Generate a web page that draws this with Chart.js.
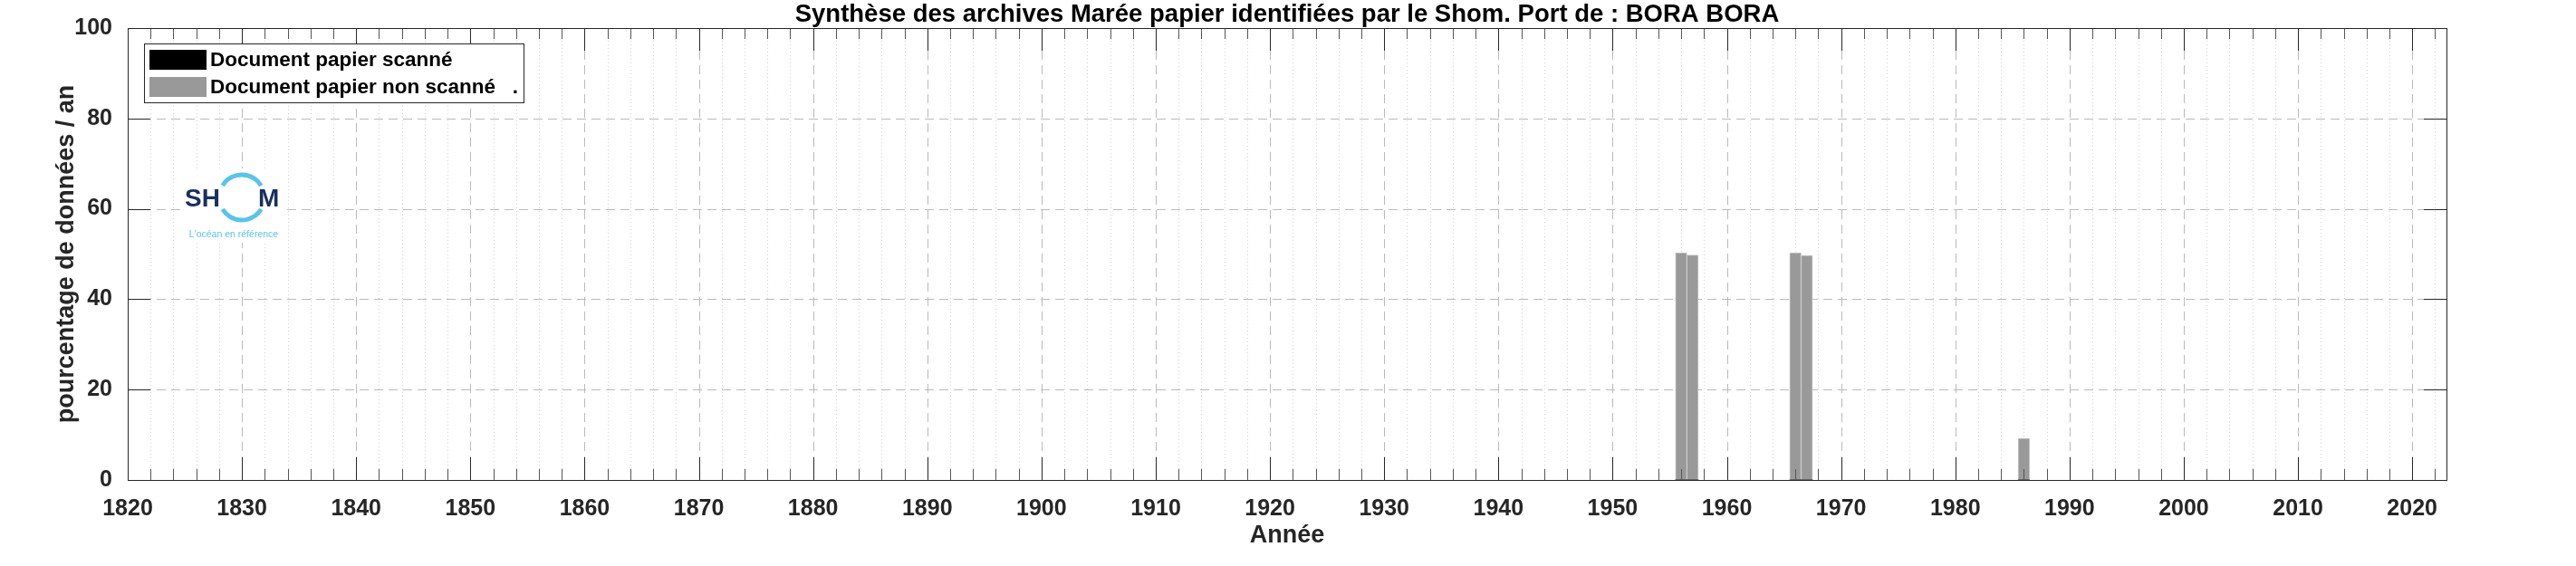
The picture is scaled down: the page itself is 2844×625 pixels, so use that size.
<!DOCTYPE html>
<html>
<head>
<meta charset="utf-8">
<script src="https://cdn.jsdelivr.net/npm/chart.js@4.4.1/dist/chart.umd.min.js"></script>
<style>
  html, body { margin: 0; padding: 0; background: #fff; }
</style>
</head>
<body>
<canvas id="archiveChart" width="2844" height="625"></canvas>
<script>
// données (pourcentage par an)
const years = [1956, 1957, 1966, 1967, 1986];
const scannedPct = [0, 0, 0, 0, 0];
const notScannedPct = [50.3, 49.8, 50.3, 49.7, 9.2];

const xTicks = [1820, 1830, 1840, 1850, 1860, 1870, 1880, 1890, 1900, 1910, 1920,
  1930, 1940, 1950, 1960, 1970, 1980, 1990, 2000, 2010, 2020];
const yTicks = [0, 20, 40, 60, 80, 100];
const seriesLabels = ["Document papier scanné", "Document papier non scanné   ."];
const chartTitle = "Synthèse des archives Marée papier identifiées par le Shom. Port de : BORA BORA";
const xTitle = "Année";
const yTitle = "pourcentage de données / an";

const FONT = '"Liberation Sans", Arial, sans-serif';
const INK = "#262626";
const MINOR_STEP = 2;

function vline(ctx, x, y0, y1) {
  ctx.beginPath();
  ctx.moveTo(x, y0);
  ctx.lineTo(x, y1);
  ctx.stroke();
}

function hline(ctx, y, x0, x1) {
  ctx.beginPath();
  ctx.moveTo(x0, y);
  ctx.lineTo(x1, y);
  ctx.stroke();
}

function drawLogo(ctx) {
  ctx.save();
  ctx.fillStyle = "#fff";
  ctx.fillRect(200, 186, 116, 82);
  ctx.strokeStyle = "#5bc3e8";
  ctx.lineWidth = 5;
  ctx.beginPath();
  ctx.arc(267, 218, 25, Math.PI + 0.55, 2 * Math.PI - 0.55);
  ctx.stroke();
  ctx.beginPath();
  ctx.arc(267, 218, 25, 0.55, Math.PI - 0.55);
  ctx.stroke();
  ctx.fillStyle = "#18305e";
  ctx.font = "bold 28px " + FONT;
  ctx.textBaseline = "alphabetic";
  ctx.textAlign = "left";
  ctx.fillText("SH", 204, 228);
  ctx.fillText("M", 285, 228);
  ctx.fillStyle = "#5bc3e8";
  ctx.font = "10.5px " + FONT;
  ctx.textAlign = "center";
  ctx.fillText("L'océan en référence", 258, 262);
  ctx.restore();
}

function drawLegend(chart) {
  const ctx = chart.ctx;
  const box = { x: 159.5, y: 48.5, w: 419, h: 65 };
  ctx.save();
  ctx.fillStyle = "#fff";
  ctx.fillRect(box.x, box.y, box.w, box.h);
  ctx.strokeStyle = INK;
  ctx.lineWidth = 1;
  ctx.strokeRect(box.x, box.y, box.w, box.h);
  ctx.font = "bold 22.5px " + FONT;
  ctx.textBaseline = "middle";
  ctx.textAlign = "left";
  chart.data.datasets.forEach((ds, i) => {
    const top = 55 + i * 30;
    ctx.fillStyle = ds.backgroundColor;
    ctx.fillRect(165, top, 63, 22);
    ctx.fillStyle = "#000";
    ctx.fillText(ds.label, 232, top + 12);
  });
  ctx.restore();
}

const matlabFrame = {
  id: "matlabFrame",
  beforeDatasetsDraw(chart) {
    const { ctx, chartArea: a, scales: { x, y } } = chart;
    ctx.save();
    ctx.lineWidth = 1;

    // grille secondaire pointillée (tous les 2 ans)
    ctx.strokeStyle = "#d2d2d2";
    ctx.setLineDash([1, 3]);
    for (let yr = x.min + MINOR_STEP; yr < x.max; yr += MINOR_STEP) {
      if (xTicks.includes(yr)) continue;
      vline(ctx, Math.round(x.getPixelForValue(yr)) + 0.5, a.bottom, a.top);
    }

    // grille principale en tirets
    ctx.strokeStyle = "#bababa";
    ctx.setLineDash([10, 6]);
    xTicks.forEach((yr) => {
      if (yr <= x.min || yr >= x.max) return;
      vline(ctx, Math.round(x.getPixelForValue(yr)) + 0.5, a.bottom, a.top);
    });
    yTicks.forEach((v) => {
      if (v <= y.min || v >= y.max) return;
      hline(ctx, Math.round(y.getPixelForValue(v)) + 0.5, a.left, a.right);
    });
    ctx.restore();

    drawLogo(ctx);
  },
  afterDatasetsDraw(chart) {
    const { ctx, chartArea: a, scales: { x, y } } = chart;
    ctx.save();
    ctx.lineWidth = 1;
    ctx.setLineDash([]);

    // graduations mineures
    ctx.strokeStyle = "#555";
    for (let yr = x.min + MINOR_STEP; yr < x.max; yr += MINOR_STEP) {
      if (xTicks.includes(yr)) continue;
      const px = Math.round(x.getPixelForValue(yr)) + 0.5;
      vline(ctx, px, a.bottom, a.bottom - 12);
      vline(ctx, px, a.top, a.top + 12);
    }

    // graduations principales
    ctx.strokeStyle = INK;
    xTicks.forEach((yr) => {
      const px = Math.round(x.getPixelForValue(yr)) + 0.5;
      vline(ctx, px, a.bottom, a.bottom - 25);
      vline(ctx, px, a.top, a.top + 25);
    });
    yTicks.forEach((v) => {
      const py = Math.round(y.getPixelForValue(v)) + 0.5;
      hline(ctx, py, a.left, a.left + 25);
      hline(ctx, py, a.right, a.right - 25);
    });

    // cadre
    ctx.strokeRect(Math.round(a.left) + 0.5, Math.round(a.top) + 0.5,
      Math.round(a.right - a.left), Math.round(a.bottom - a.top));

    // titre
    ctx.fillStyle = "#000";
    ctx.font = "bold 27.5px " + FONT;
    ctx.textAlign = "center";
    ctx.textBaseline = "middle";
    ctx.fillText(chartTitle, (a.left + a.right) / 2, 16);

    // titre de l'axe vertical
    ctx.fillStyle = INK;
    ctx.font = "bold 27px " + FONT;
    ctx.translate(74, (a.top + a.bottom) / 2);
    ctx.rotate(-Math.PI / 2);
    ctx.fillText(yTitle, 0, 0);
    ctx.restore();

    drawLegend(chart);
  },
};

const tickFont = { family: FONT, size: 25, weight: "bold" };

new Chart(document.getElementById("archiveChart"), {
  type: "bar",
  data: {
    datasets: [
      {
        label: seriesLabels[0],
        data: years.map((yr, i) => ({ x: yr, y: scannedPct[i] })),
        backgroundColor: "#000000",
        borderWidth: 0,
      },
      {
        label: seriesLabels[1],
        data: years.map((yr, i) => ({ x: yr, y: notScannedPct[i] })),
        backgroundColor: "#999999",
        borderColor: "#c6c6c6",
        borderWidth: 1,
      },
    ],
  },
  options: {
    responsive: false,
    animation: false,
    devicePixelRatio: 1,
    layout: { padding: { top: 31, right: 143, bottom: 0, left: 0 } },
    datasets: { bar: { barPercentage: 1, categoryPercentage: 1, grouped: false } },
    plugins: { legend: { display: false }, tooltip: { enabled: false }, title: { display: false } },
    scales: {
      x: {
        type: "linear",
        min: 1820,
        max: 2023,
        offset: false,
        stacked: true,
        grid: { display: false },
        border: { display: false },
        afterBuildTicks: (s) => { s.ticks = xTicks.map((v) => ({ value: v })); },
        afterFit: (s) => { s.height = 95; },
        ticks: { font: tickFont, color: INK, padding: 9, maxRotation: 0, autoSkip: false, callback: (v) => String(v) },
        title: { display: true, text: xTitle, font: { family: FONT, size: 27, weight: "bold" }, color: INK, padding: { top: 0, bottom: 17 } },
      },
      y: {
        min: 0,
        max: 100,
        stacked: true,
        grid: { display: false },
        border: { display: false },
        afterBuildTicks: (s) => { s.ticks = yTicks.map((v) => ({ value: v })); },
        afterFit: (s) => { s.width = 141; },
        ticks: { font: tickFont, color: INK, padding: 9, callback: (v) => String(v) },
        title: { display: false },
      },
    },
  },
  plugins: [matlabFrame],
});
</script>
</body>
</html>
